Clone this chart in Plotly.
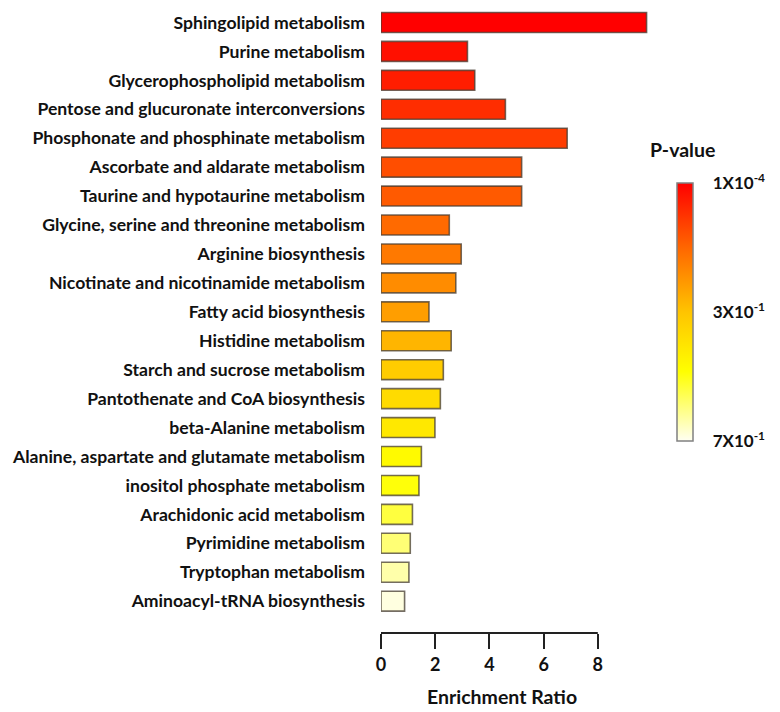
import plotly.graph_objects as go

pathways = [
    "Sphingolipid metabolism",
    "Purine metabolism",
    "Glycerophospholipid metabolism",
    "Pentose and glucuronate interconversions",
    "Phosphonate and phosphinate metabolism",
    "Ascorbate and aldarate metabolism",
    "Taurine and hypotaurine metabolism",
    "Glycine, serine and threonine metabolism",
    "Arginine biosynthesis",
    "Nicotinate and nicotinamide metabolism",
    "Fatty acid biosynthesis",
    "Histidine metabolism",
    "Starch and sucrose metabolism",
    "Pantothenate and CoA biosynthesis",
    "beta-Alanine metabolism",
    "Alanine, aspartate and glutamate metabolism",
    "inositol phosphate metabolism",
    "Arachidonic acid metabolism",
    "Pyrimidine metabolism",
    "Tryptophan metabolism",
    "Aminoacyl-tRNA biosynthesis",
]
enrichment_ratio = [9.8, 3.19, 3.46, 4.59, 6.87, 5.19, 5.19, 2.52, 2.96, 2.76, 1.77,
                    2.59, 2.30, 2.19, 1.99, 1.49, 1.40, 1.16, 1.08, 1.03, 0.87]
# position of each bar's colour on the P-value colour bar (1 = top, 0 = bottom)
pvalue_level = [1.0, 0.96, 0.93, 0.89, 0.85, 0.81, 0.78, 0.74, 0.70, 0.65, 0.60,
                0.54, 0.47, 0.41, 0.36, 0.29, 0.26, 0.20, 0.14, 0.08, 0.02]
cbar_tickvals = [1.0, 0.5, 0.0]
cbar_ticktext = ["1X10<sup>-4</sup>", "3X10<sup>-1</sup>", "7X10<sup>-1</sup>"]
x_ticks = [0, 2, 4, 6, 8]

colorscale = [[0.0, "#FFFFF2"], [0.27, "#FFFF00"], [0.5, "#FFC400"],
              [0.75, "#FF6600"], [1.0, "#FF0000"]]

FONT = "Lato"
TXT = "#111111"

fig = go.Figure()
fig.add_trace(go.Bar(
    y=pathways, x=enrichment_ratio, orientation="h", width=0.69,
    marker=dict(
        color=pvalue_level, colorscale=colorscale, cmin=0, cmax=1,
        line=dict(color="rgba(70,60,50,0.75)", width=1.6),
        showscale=True,
        colorbar=dict(
            x=1.092, xanchor="left", xref="paper", xpad=0, ypad=0,
            y=0.514, yanchor="middle",
            thickness=16, len=258, lenmode="pixels",
            outlinecolor="#808080", outlinewidth=1.5,
            tickvals=cbar_tickvals, ticktext=cbar_ticktext,
            ticks="outside", ticklen=16, tickcolor="rgba(0,0,0,0)",
            tickfont=dict(family=FONT, size=17, color=TXT, weight="bold"),
        ),
    ),
))

fig.add_shape(type="line", xref="x", yref="paper", x0=0, x1=8, y0=0, y1=0,
              line=dict(color="#222", width=2))

fig.add_annotation(text="P-value", xref="paper", yref="paper",
                   x=(682 - 381) / 271, y=(633 - 150) / 625, showarrow=False,
                   xanchor="center", yanchor="middle",
                   font=dict(family=FONT, size=19.5, color=TXT, weight="bold"))
fig.add_annotation(text="Enrichment Ratio", xref="x", yref="paper",
                   x=4.46, y=(633 - 696) / 625, showarrow=False,
                   xanchor="center", yanchor="middle",
                   font=dict(family=FONT, size=19.5, color=TXT, weight="bold"))

fig.update_xaxes(range=[0, 10], tickvals=x_ticks, showline=False, showgrid=False,
                 zeroline=False, ticks="outside", ticklen=15, tickwidth=2,
                 tickcolor="#222", automargin=False,
                 tickfont=dict(family=FONT, size=18, color=TXT, weight="bold"))
fig.update_yaxes(range=[21.1, -0.5], showline=False, showgrid=False, zeroline=False,
                 ticks="", ticklabelstandoff=15, automargin=False,
                 tickfont=dict(family=FONT, size=17.6, color=TXT, weight="bold"))

fig.update_layout(
    width=780, height=712,
    margin=dict(l=381, r=128, t=8, b=79, autoexpand=False),
    paper_bgcolor="white", plot_bgcolor="white",
    showlegend=False,
)

fig.write_html("out.html", config={"displayModeBar": False},
               post_script="document.body.style.margin='0';")
